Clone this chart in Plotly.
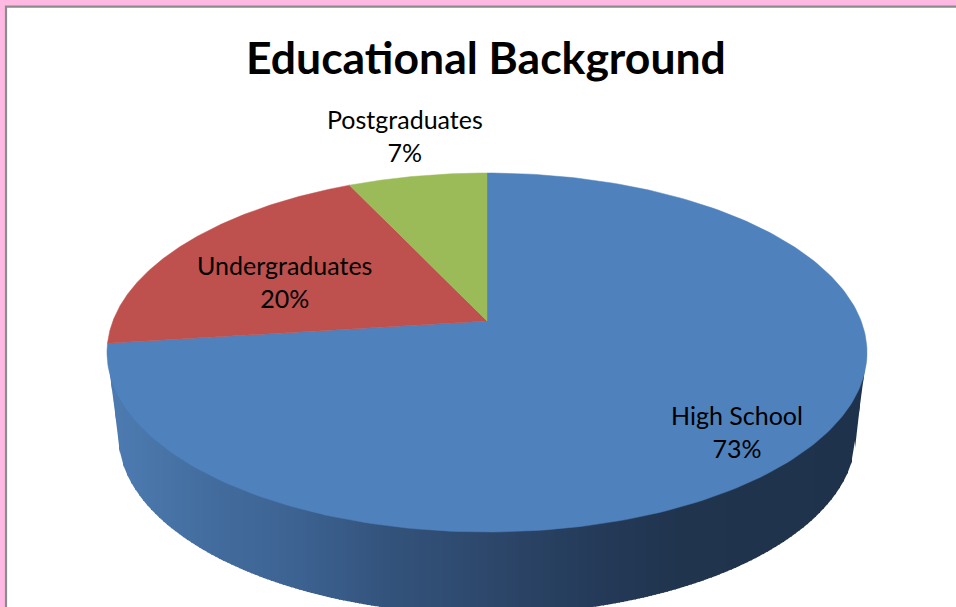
import numpy as np
import plotly.graph_objects as go

# Education levels, clockwise from twelve o'clock
categories = ["High School", "Undergraduates", "Postgraduates"]
shares = [73, 20, 7]
slice_colors = ["#4F81BD", "#BE504D", "#9BBB59"]
chart_title = "Educational Background"

WIDTH, HEIGHT = 956, 607
CX, APEX_Y = 487, 321
RIM_TOP, RIM_BOTTOM = 173, 532
RIM_HALF_WIDTH = 380

# Tilted disc: a unit circle projected with a simple perspective term
persp = (APEX_Y * 2 - RIM_TOP - RIM_BOTTOM) / (RIM_BOTTOM - RIM_TOP) * -1
a = RIM_TOP * (1 + persp) - APEX_Y
kx = RIM_HALF_WIDTH * np.sqrt(1 - persp ** 2)


def project(u, v):
    w = 1 + persp * v
    return CX + kx * u / w, (a * v + APEX_Y) / w


# Side wall: the rim ellipse and a narrower copy lowered by the pie's thickness
RIM_CY = (RIM_TOP + RIM_BOTTOM) / 2
RIM_RY = (RIM_BOTTOM - RIM_TOP) / 2
BASE_RX, BASE_CY = 369, 435
wall_stop_x = [118, 200, 300, 380, 500, 600, 680, 860]
wall_stop_rgb = [(76, 122, 176), (68, 110, 160), (60, 98, 145), (52, 84, 125),
                 (44, 70, 105), (36, 58, 88), (32, 52, 78), (31, 50, 75)]


def wall_color(x):
    r, g, b = (np.interp(x, wall_stop_x, [c[i] for c in wall_stop_rgb]) for i in range(3))
    return f"rgb({r:.0f},{g:.0f},{b:.0f})"


def wall_upper(x):
    # Tucked a little under the top face so no gap opens along the rim
    d = np.clip((x - CX) / RIM_HALF_WIDTH, -1, 1)
    return RIM_CY + RIM_RY * np.sqrt(1 - d ** 2) - 3


def wall_lower(x):
    d = abs(x - CX)
    if d <= BASE_RX:
        return BASE_CY + RIM_RY * np.sqrt(1 - (d / BASE_RX) ** 2)
    # Straight silhouette between the rim's widest point and the base's
    return np.interp(d, [BASE_RX, RIM_HALF_WIDTH], [BASE_CY, RIM_CY])


fig = go.Figure()

# Vertical bands painted left to right, each one lapping under the next
left, right = CX - RIM_HALF_WIDTH, CX + RIM_HALF_WIDTH
band_edges = np.arange(left, right + 4, 4)
for x0, x1 in zip(band_edges[:-1], band_edges[1:]):
    x_end = min(x1 + 1, right)
    xs = [x0, x_end, x_end, x0]
    ys = [wall_upper(x0), wall_upper(x_end), wall_lower(x_end), wall_lower(x0)]
    fig.add_trace(go.Scatter(x=xs, y=ys, mode="lines", fill="toself",
                             fillcolor=wall_color((x0 + x1) / 2), line=dict(width=0),
                             hoverinfo="skip", showlegend=False))

# Top face: one filled wedge per category, sized from its share
start = 0.0
total = sum(shares)
for name, share, color in zip(categories, shares, slice_colors):
    end = start + share / total
    t = np.linspace(start, end, 240) * 2 * np.pi
    ex, ey = project(np.sin(t), np.cos(t))
    xs = np.concatenate([[CX], ex, [CX]])
    ys = np.concatenate([[APEX_Y], ey, [APEX_Y]])
    fig.add_trace(go.Scatter(x=xs, y=ys, mode="lines", fill="toself", fillcolor=color,
                             line=dict(color=color, width=0.5), name=name,
                             hoverinfo="name", showlegend=False))
    start = end

label_pos = {"High School": (737, 431), "Undergraduates": (284, 281), "Postgraduates": (405, 135)}
for name, share in zip(categories, shares):
    lx, ly = label_pos[name]
    fig.add_annotation(x=lx, y=ly, text=f"{name}<br>{share}%", showarrow=False,
                       font=dict(family="Lato", size=25, color="#000000"), align="center")

fig.add_annotation(x=486, y=56.5, text=f"<b>{chart_title}</b>", showarrow=False,
                   font=dict(family="Lato", size=44.5, color="#000000"))

fig.update_layout(
    width=WIDTH, height=HEIGHT, margin=dict(l=0, r=0, t=0, b=0),
    paper_bgcolor="#FFB9E3", plot_bgcolor="#FFB9E3",
    xaxis=dict(range=[0, WIDTH], visible=False, fixedrange=True),
    yaxis=dict(range=[HEIGHT, 0], visible=False, fixedrange=True),
    shapes=[dict(type="rect", xref="x", yref="y", x0=6, y0=6.7, x1=WIDTH + 20, y1=HEIGHT + 20,
                 fillcolor="#FFFFFF", line=dict(color="#8C8C8C", width=2.2), layer="below")],
)

fig.write_html("out.html", config={"displayModeBar": False})
